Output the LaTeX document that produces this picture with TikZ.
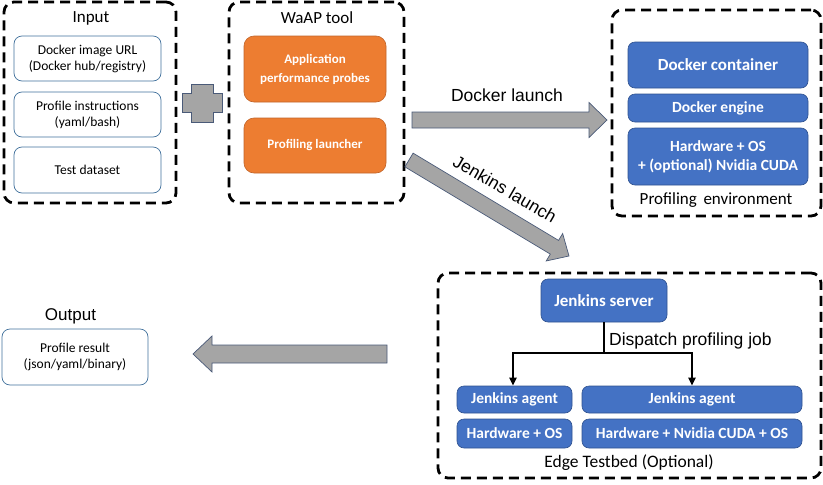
\documentclass[tikz,border=0pt]{standalone}
\usepackage{fontspec}
\setmainfont{Carlito}
\newfontfamily\arialfont{Liberation Sans}
\usetikzlibrary{calc,arrows.meta}
\definecolor{orangebox}{HTML}{ED7D31}
\definecolor{orangeedge}{HTML}{C0642A}
\definecolor{bluebox}{HTML}{4472C4}
\definecolor{blueedge}{HTML}{2F528F}
\definecolor{arrowgray}{HTML}{A5A5A5}
\definecolor{arrowedge}{HTML}{4A5A78}
\definecolor{thinedge}{HTML}{41719C}
\newcommand{\blockarrow}[5]{%
  \coordinate (ba-b) at ($(#2)!#5!(#1)$);
  \draw[blockarr] ($(#1)!#3!90:(#2)$) -- ($(ba-b)!#3!90:(#2)$) -- ($(ba-b)!#4!90:(#2)$) -- (#2)
    -- ($(ba-b)!#4!-90:(#2)$) -- ($(ba-b)!#3!-90:(#2)$) -- ($(#1)!#3!-90:(#2)$) -- cycle;}
\tikzset{
  frame/.style={draw=black, line width=2.8pt, dash pattern=on 10pt off 6pt, rounded corners=10pt, inner sep=0pt},
  inbox/.style={draw=thinedge, line width=0.7pt, fill=white, rounded corners=8pt, align=center, inner sep=0pt, font=\fontsize{13.5}{16}\selectfont},
  orbox/.style={draw=orangeedge, line width=0.6pt, fill=orangebox, rounded corners=10pt, align=center, inner sep=0pt, text=white, font=\bfseries\fontsize{13}{19}\selectfont},
  blbox/.style={draw=blueedge, line width=0.6pt, fill=bluebox, rounded corners=7pt, align=center, inner sep=0pt, text=white, font=\bfseries\fontsize{15.5}{19}\selectfont},
  head/.style={font=\fontsize{17}{20}\selectfont, inner sep=0pt},
  arlabel/.style={font=\arialfont\fontsize{17.5}{20}\selectfont, inner sep=0pt},
  blockarr/.style={fill=arrowgray, draw=arrowedge, line width=0.7pt, line join=miter},
  dispatch/.style={line width=2.4pt, -{Triangle[length=8pt,width=7pt]}}
}
\begin{document}
\begin{tikzpicture}[x=1pt,y=-1pt]
\useasboundingbox (0,0) rectangle (823,485);
% Input
\node[frame, minimum width=172, minimum height=201] (inframe) at (90,102.5) {};
\node[head] (inlabel) at (91,18) {Input};
\node[inbox, minimum width=147, minimum height=45] (url) at (87.5,58.5) {Docker image URL\\(Docker hub/registry)};
\node[inbox, minimum width=147, minimum height=45] (instr) at (87.5,114.5) {Profile instructions\\(yaml/bash)};
\node[inbox, minimum width=147, minimum height=46] (data) at (87.5,170) {Test dataset};
% plus
\draw[blockarr] (191,84) -- (213,84) -- (213,93) -- (222,93) -- (222,112) -- (213,112) -- (213,122)
  -- (191,122) -- (191,112) -- (182,112) -- (182,93) -- (191,93) -- cycle;
% WaAP
\node[frame, minimum width=175, minimum height=201] (waframe) at (316.5,102.5) {};
\node[head] (walabel) at (317,18) {WaAP tool};
\node[orbox, minimum width=142, minimum height=66] (probes) at (315,69) {Application\\performance probes};
\node[orbox, minimum width=142, minimum height=55] (launcher) at (315,145.5) {Profiling launcher};
% Profiling environment
\node[frame, minimum width=209, minimum height=206] (envframe) at (716.5,113) {};
\node[blbox, minimum width=180, minimum height=46, font=\bfseries\fontsize{17}{20}\selectfont] (container) at (718,65) {Docker container};
\node[blbox, minimum width=180, minimum height=28] (engine) at (718,108) {Docker engine};
\node[blbox, minimum width=180, minimum height=57] (hwos) at (718,156.5) {Hardware + OS\\+ (optional) Nvidia CUDA};
\node[head] (envlabel) at (716,200) {Profiling\, environment};
% Edge testbed
\node[frame, minimum width=383, minimum height=205] (edgeframe) at (629.5,375.5) {};
\node[blbox, minimum width=126, minimum height=43, font=\bfseries\fontsize{17}{20}\selectfont] (server) at (604,300.5) {Jenkins server};
\node[blbox, minimum width=115, minimum height=27] (agentl) at (514.5,399.5) {Jenkins agent};
\node[blbox, minimum width=115, minimum height=29] (hwl) at (514.5,433.5) {Hardware + OS};
\node[blbox, minimum width=220, minimum height=27] (agentr) at (692,399.5) {Jenkins agent};
\node[blbox, minimum width=220, minimum height=29] (hwr) at (692,433.5) {Hardware + Nvidia CUDA + OS};
\node[head, font=\fontsize{17.5}{20}\selectfont] (edgelabel) at (629,463) {Edge Testbed (Optional)};
\coordinate (split) at (604,353);
\draw[line width=2.4pt] (server.south) -- (split);
\draw[dispatch] (split) -| ([xshift=-1.5pt]agentl.north);
\draw[dispatch] (split) -| (agentr.north);
\node[arlabel, anchor=west] (displabel) at (609,341) {Dispatch profiling job};
% Output
\node[head, font=\arialfont\fontsize{17}{20}\selectfont] (outlabel) at (70.5,316) {Output};
\node[inbox, minimum width=146, minimum height=56] (outbox) at (75,357) {Profile result\\(json/yaml/binary)};
% block arrows
\coordinate (dlS) at (412,120); \coordinate (dlT) at (607,120);
\blockarrow{dlS}{dlT}{8pt}{17.5pt}{18pt}
\node[arlabel] (dllabel) at (507,95) {Docker launch};
\coordinate (jlS) at (409,160); \coordinate (jlT) at (569,256);
\blockarrow{jlS}{jlT}{8pt}{16pt}{17pt}
\node[arlabel, rotate=-30] (jllabel) at (505,189) {Jenkins launch};
\coordinate (olS) at (387,354); \coordinate (olT) at (193,354);
\blockarrow{olS}{olT}{9pt}{18pt}{19pt}
\end{tikzpicture}
\end{document}
